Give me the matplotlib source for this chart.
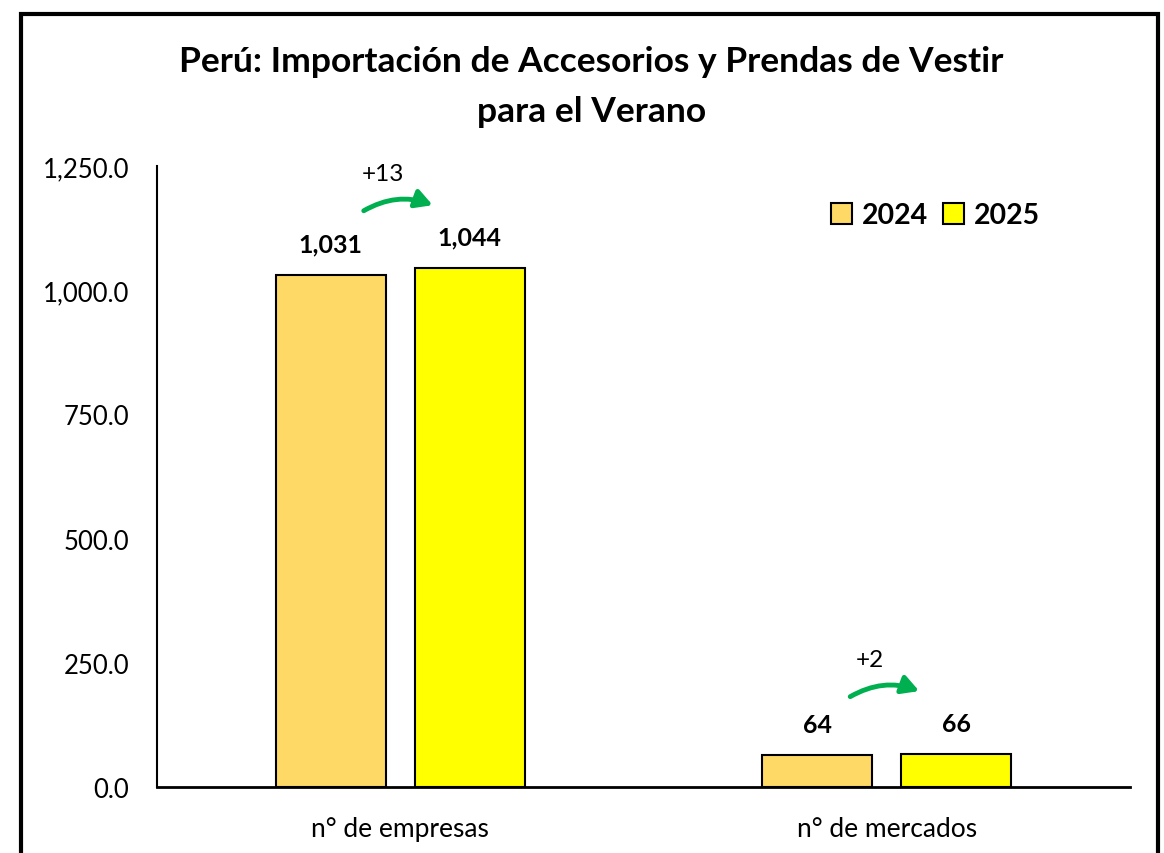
import matplotlib
matplotlib.use('Agg')
import matplotlib.pyplot as plt
from matplotlib.patches import Rectangle
from matplotlib.ticker import FuncFormatter

categories = ['n° de empresas', 'n° de mercados']
values_2024 = [1031, 64]
values_2025 = [1044, 66]
labels_2024 = ['1,031', '64']
labels_2025 = ['1,044', '66']
changes = ['+13', '+2']

plt.rcParams['font.family'] = ['Lato', 'DejaVu Sans']

fig = plt.figure(figsize=(11.64, 8.54), dpi=100)
ax = fig.add_axes([0.1349, 0.0773, 0.8359, 0.7272])

x = range(len(categories))
w = 0.226
off = 0.143
ax.bar([i - off for i in x], values_2024, w, color='#FFD966', edgecolor='black', linewidth=1.5, label='2024')
ax.bar([i + off for i in x], values_2025, w, color='#FFFF00', edgecolor='black', linewidth=1.5, label='2025')

for i in x:
    ax.annotate(labels_2024[i], (i - off, values_2024[i]), xytext=(0, 14), textcoords='offset points',
                ha='center', va='bottom', fontsize=18, fontweight='bold')
    ax.annotate(labels_2025[i], (i + off, values_2025[i]), xytext=(0, 14), textcoords='offset points',
                ha='center', va='bottom', fontsize=18, fontweight='bold')
    top = max(values_2024[i], values_2025[i])
    # green curved arrow with the change
    ax.annotate('', xy=(i + 0.072, top + 125), xytext=(i - 0.08, top + 113),
                arrowprops=dict(arrowstyle='-|>,head_length=1.0,head_width=0.55', color='#00B050', lw=3.5,
                                connectionstyle='arc3,rad=-0.25'))
    ax.text(i - 0.035, top + 190, changes[i], ha='center', va='center', fontsize=17.5)

ax.set_xlim(-0.5, 1.5)
ax.set_ylim(0, 1250)
ax.set_yticks([0, 250, 500, 750, 1000, 1250])
ax.yaxis.set_major_formatter(FuncFormatter(lambda v, p: f'{v:,.1f}'))
ax.set_xticks(list(x))
ax.set_xticklabels(categories)
ax.tick_params(axis='y', length=0, labelsize=18.5, pad=20)
ax.tick_params(axis='x', length=0, labelsize=19, pad=21)
for s in ['top', 'right']:
    ax.spines[s].set_visible(False)
ax.spines['left'].set_linewidth(1.5)
ax.spines['bottom'].set_linewidth(2)

ax.legend(loc='upper right', bbox_to_anchor=(0.934, 0.983), ncol=2, frameon=False,
          prop={'weight': 'bold', 'size': 20.5}, handlelength=0.75, handleheight=0.75,
          handletextpad=0.35, columnspacing=0.5)

fig.text(0.508, 0.927, 'Perú: Importación de Accesorios y Prendas de Vestir', ha='center', va='center',
         fontsize=25.5, fontweight='bold')
fig.text(0.508, 0.869, 'para el Verano', ha='center', va='center', fontsize=25.5, fontweight='bold')

fig.patches.append(Rectangle((21 / 1164, -0.1), (1158 - 21) / 1164, 1.1 - 15 / 854, transform=fig.transFigure,
                             fill=False, edgecolor='black', linewidth=3))

fig.savefig('out.png', dpi=100)
